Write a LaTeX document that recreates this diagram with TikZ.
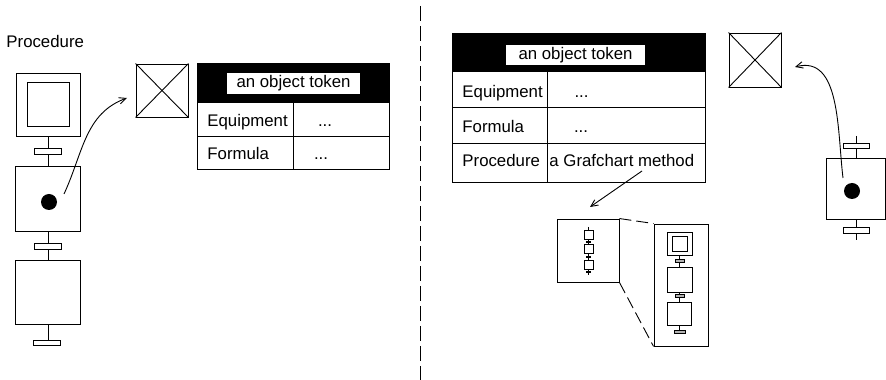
\documentclass[tikz,border=0pt]{standalone}
\usepackage{fontspec}
\setmainfont{Liberation Sans}
\usetikzlibrary{arrows.meta}

\begin{document}
\begin{tikzpicture}[x=1pt,y=1pt,line width=0.9pt,
    font=\fontsize{16.8}{20}\selectfont,
    stepbox/.style={draw,inner sep=0pt,minimum width=65pt,minimum height=65pt},
    transbar/.style={draw,fill=white,inner sep=0pt,minimum width=27pt,minimum height=6pt},
    token/.style={circle,fill=black,inner sep=0pt,minimum size=16pt},
    xbox/.style={draw,inner sep=0pt,minimum width=52pt,minimum height=53pt},
    cell/.style={anchor=base west,inner sep=0pt},
    dots/.style={anchor=base,inner sep=0pt},
    headbox/.style={fill=white,inner sep=0pt,minimum height=21pt},
    tinystep/.style={draw,fill=white,line width=0.6pt,inner sep=0pt,minimum size=9pt},
    tinytick/.style={fill=black,inner sep=0pt,minimum width=5pt,minimum height=1.2pt},
    minibox/.style={draw,fill=white,line width=0.6pt,inner sep=0pt},
    minibar/.style={draw,fill=gray!60,line width=0.5pt,inner sep=0pt,minimum width=9pt,minimum height=3pt},
    barb/.style={-{Straight Barb[length=7pt,width=6.5pt]}},
    zoomline/.style={dash pattern=on 12pt off 5pt}]

    \useasboundingbox (0,0) rectangle (886,380);

    % dashed divider
    \coordinate (divtop) at (420,374);
    \coordinate (divbot) at (420,0);
    \draw[dash pattern=on 15pt off 5pt] (divtop) -- (divbot);

    % left: the procedure grafchart
    \node[anchor=base west,inner sep=0pt] (proc) at (6,332) {Procedure};
    \node[stepbox,minimum width=64pt,minimum height=63pt] (s1) at (48,275.5) {};
    \node[draw,inner sep=0pt,minimum width=42pt,minimum height=44pt] (s1in) at (48,276) {};
    \node[stepbox] (s2) at (48,181.5) {};
    \node[stepbox,minimum height=64pt] (s3) at (48,88) {};
    \node[token] (dot1) at (49,178) {};
    \coordinate (s3end) at (48,40);
    \draw (s1.south) -- (s2.north);
    \draw (s2.south) -- (s3.north);
    \draw (s3.south) -- (s3end);
    \node[transbar] (t1) at (48,229) {};
    \node[transbar,minimum height=5.5pt] (t2) at (48,133.5) {};
    \node[transbar,minimum height=5pt] (t3) at (47,37.5) {};

    % left: token and its object
    \node[xbox] (x1) at (162,289.5) {};
    \draw (x1.north west) -- (x1.south east);
    \draw (x1.south west) -- (x1.north east);
    \coordinate (a1) at (64,186);
    \coordinate (b1) at (127,282);
    \draw[barb] (a1) to[out=65,in=200] (b1);

    % left table
    \fill (197,277) rectangle (389,317);
    \draw (197,211) rectangle (389,317);
    \draw (197,244) -- (389,244);
    \draw (293,211) -- (293,277);
    \node[headbox,minimum width=133pt] (ltok) at (293.5,296.5) {an object token};
    \node[cell] (lequ) at (207,253.3) {Equipment};
    \node[dots] (lequv) at (325,253.3) {...};
    \node[cell] (lfor) at (207,220.7) {Formula};
    \node[dots] (lforv) at (321,220.7) {...};

    % right table
    \fill (452,308) rectangle (705,347);
    \draw (452,198) rectangle (705,347);
    \draw (452,273) -- (705,273);
    \draw (452,237) -- (705,237);
    \draw (547,198) -- (547,308);
    \node[headbox,minimum width=139pt,minimum height=20pt] (rtok) at (575.5,325) {an object token};
    \node[cell] (requ) at (462,282.7) {Equipment};
    \node[dots] (requv) at (581.5,282.7) {...};
    \node[cell] (rfor) at (462,247.7) {Formula};
    \node[dots] (rforv) at (581,247.7) {...};
    \node[cell] (rproc) at (462,213.3) {Procedure};
    \node[cell] (rmeth) at (549,213.3) {a Grafchart method};

    % method icon and its zoom
    \coordinate (a2) at (642,209);
    \coordinate (b2) at (590,173);
    \draw[barb] (a2) -- (b2);
    \node[draw,inner sep=0pt,minimum width=62pt,minimum height=63pt] (zsrc) at (588,129.5) {};
    \coordinate (mtop) at (588.5,153);
    \coordinate (mbot) at (588.5,105);
    \draw[line width=0.6pt] (mtop) -- (mbot);
    \node[tinystep] (m1) at (588.5,145) {};
    \node[tinystep] (m2) at (588.5,131.5) {};
    \node[tinystep] (m3) at (588.5,115.5) {};
    \node[tinytick] (mt1) at (588.5,138) {};
    \node[tinytick] (mt2) at (588.5,123) {};
    \node[tinytick] (mt3) at (588.5,108) {};

    \node[draw,inner sep=0pt,minimum width=54pt,minimum height=122pt] (zdst) at (681,95) {};
    \node[minibox,minimum width=25pt,minimum height=23pt] (g1) at (679.5,136.5) {};
    \node[minibox,minimum size=15pt] (g1in) at (679.5,136.5) {};
    \node[minibox,minimum width=25pt,minimum height=25pt] (g2) at (679.5,100.5) {};
    \node[minibox,minimum width=24pt,minimum height=23pt] (g3) at (679.5,66.5) {};
    \coordinate (g3end) at (679.5,48);
    \draw[line width=0.6pt] (g1.south) -- (g2.north);
    \draw[line width=0.6pt] (g2.south) -- (g3.north);
    \draw[line width=0.6pt] (g3.south) -- (g3end);
    \node[minibar] (gb1) at (679.5,119) {};
    \node[minibar] (gb2) at (679.5,84) {};
    \node[minibar,minimum width=11pt] (gb3) at (679.5,48) {};

    \draw[zoomline] (zsrc.north east) -- (zdst.north west);
    \draw[zoomline] (zsrc.south east) -- (zdst.south west);

    % right: the token in a step
    \node[xbox,minimum height=54pt] (x2) at (755,320) {};
    \draw (x2.north west) -- (x2.south east);
    \draw (x2.south west) -- (x2.north east);
    \node[stepbox,minimum width=59pt,minimum height=61pt] (rs) at (856,191.5) {};
    \node[token] (dot2) at (852,189) {};
    \coordinate (rtop) at (856,244);
    \coordinate (rbot) at (856,140);
    \draw (rtop) -- (rs.north);
    \draw (rs.south) -- (rbot);
    \node[transbar,minimum width=26pt,minimum height=5pt] (rt1) at (856,234.5) {};
    \node[transbar,minimum width=26pt] (rt2) at (856,150) {};
    \coordinate (a3) at (843,202);
    \coordinate (b3) at (795,313);
    \draw[barb] (a3) to[out=97,in=15] (b3);
\end{tikzpicture}
\end{document}
